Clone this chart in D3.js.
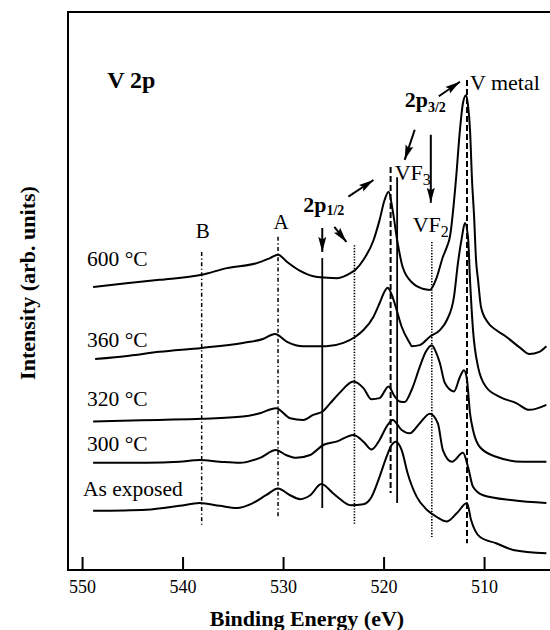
<!DOCTYPE html>
<html><head><meta charset="utf-8">
<script src="https://cdn.jsdelivr.net/npm/d3@7"></script>
<style>
body{margin:0;background:#fff;}
svg{display:block;}
text{font-family:"Liberation Serif","Times New Roman",serif;fill:#000;}
</style>
</head><body>
<svg id="chart" width="550" height="630"></svg>
<script>
// ---------- DATA (binding energy eV, intensity arb. units) ----------
const seriesNames = ["600 °C", "360 °C", "320 °C", "300 °C", "As exposed"];

const s600 = [
 [548.9,50.7],[545.6,51.4],[542.3,52.0],[538.1,52.9],[535.6,54.1],[532.6,55.0],[531.3,55.9],[530.5,56.5],
 [529.6,55.2],[528.3,53.6],[526.6,52.5],[524.6,52.3],[523.3,53.2],[522.8,53.8],[522.0,55.6],[521.0,59.1],
 [520.4,62.7],[519.9,66.3],[519.5,67.8],[519.1,64.5],[518.6,58.6],[518.1,54.3],[517.1,51.4],[516.1,50.4],
 [515.4,50.2],[514.7,52.5],[514.1,56.1],[513.7,57.9],[513.4,59.7],[512.8,69.9],[512.4,78.9],[512.1,83.7],
 [511.8,85.1],[511.6,83.3],[511.4,78.9],[511.2,69.9],[511.0,63.6],[510.8,55.6],[510.6,52.0],[510.3,47.1],
 [509.6,44.3],[508.8,43.0],[507.8,41.8],[506.4,39.8],[505.5,38.7],[504.5,39.1],[503.8,40.1]
];
const s360 = [
 [548.7,37.8],[545.3,38.4],[542.3,39.1],[538.1,39.8],[534.0,40.7],[532.0,41.4],[530.8,42.3],[529.6,40.9],
 [528.0,40.1],[525.7,40.1],[524.0,40.7],[522.8,41.8],[522.0,43.0],[521.0,45.4],[520.4,47.8],[519.9,49.9],
 [519.6,50.6],[519.1,48.9],[518.7,46.6],[518.2,43.6],[517.4,40.7],[517.2,40.1],[516.4,40.3],[515.4,41.8],
 [514.4,43.0],[513.7,44.8],[513.0,48.9],[512.6,55.0],[512.2,59.7],[511.9,62.2],[511.6,59.7],[511.4,52.0],
 [511.1,43.0],[510.6,36.4],[509.8,32.8],[508.4,31.0],[506.8,29.9],[505.5,28.7],[503.8,29.6]
];
const s320 = [
 [548.9,26.6],[542.3,26.9],[538.1,27.1],[534.0,27.5],[532.3,28.1],[530.7,29.0],[529.3,27.2],[528.0,26.9],
 [527.0,27.8],[526.0,28.5],[525.3,29.9],[524.4,31.7],[523.0,33.8],[522.0,32.6],[521.2,30.6],[520.4,30.8],
 [519.5,32.9],[518.9,31.1],[518.4,30.2],[517.9,30.1],[517.2,32.3],[516.4,36.4],[515.8,39.1],[515.2,40.3],
 [514.8,39.1],[514.4,37.1],[513.9,33.5],[513.0,32.0],[512.4,34.6],[512.0,35.8],[511.7,34.1],[511.4,28.1],
 [511.1,25.1],[510.4,22.0],[508.8,20.3],[506.1,19.4],[503.8,19.4]
];
const s300 = [
 [548.9,19.2],[543.6,19.2],[540.3,19.4],[538.3,19.7],[536.3,19.4],[534.3,19.2],[532.3,20.1],[530.7,21.5],
 [529.7,20.6],[528.7,20.1],[527.3,20.6],[526.0,22.4],[524.7,23.0],[523.0,24.2],[522.0,23.0],[521.2,21.6],
 [520.4,23.3],[519.7,25.7],[519.1,26.9],[518.2,25.1],[517.4,24.5],[516.4,26.3],[515.4,28.0],[514.6,26.3],
 [514.1,21.5],[513.2,19.4],[512.1,21.0],[511.6,18.5],[511.1,14.9],[510.1,13.4],[507.1,12.5],[503.8,12.0]
];
const sExposed = [
 [548.9,10.6],[543.6,10.8],[540.3,11.5],[538.3,12.0],[536.3,11.5],[534.6,11.1],[533.0,12.0],[531.7,13.4],
 [530.5,14.6],[529.3,13.4],[528.3,12.7],[527.3,13.4],[526.2,15.4],[525.0,13.7],[524.4,12.8],[523.3,11.6],
 [522.0,11.8],[521.2,13.1],[520.4,16.7],[519.7,20.3],[519.2,22.4],[518.8,23.0],[518.2,21.5],[517.6,17.3],
 [516.7,13.1],[515.7,10.8],[514.7,9.5],[513.7,8.7],[512.7,10.2],[511.7,12.0],[511.3,9.0],[510.4,5.9],
 [508.8,4.8],[507.1,3.6],[503.8,3.0]
];
const allSeries = [s600, s360, s320, s300, sExposed];

const xTicks = [550, 540, 530, 520, 510];

// reference (peak position) lines
const refEnergies = [538.1, 530.5, 526.1, 522.9, 519.3, 518.65, 515.2, 511.7];
const refTops     = [57.0, 59.7, 55.9, 58.2, 72.2, 70.4, 58.8, 87.8];
const refBottoms  = [7.7, 9.3, 11.1, 8.1, 13.8, 12.0, 5.9, 4.8];

// ---------- LAYOUT ----------
const SERIF = '"Liberation Serif","Times New Roman",serif';
const svg = d3.select("#chart");
const x = d3.scaleLinear().domain([551.4, 503.5]).range([68, 549.4]);
const y = d3.scaleLinear().domain([0, 100]).range([570, 12]);

const refStyles = [
  {dash:"4,2.5,1.2,2.5", w:1.5}, {dash:"4,2.5,1.2,2.5", w:1.5},
  {dash:null, w:1.8}, {dash:"1.3,1.5", w:1.6},
  {dash:"6,3", w:2}, {dash:null, w:1.8},
  {dash:"1.3,1.5", w:1.6}, {dash:"6,3", w:2}
];

// defs: arrow head
svg.append("defs").append("marker")
  .attr("id","ah").attr("markerUnits","userSpaceOnUse")
  .attr("markerWidth",16).attr("markerHeight",10)
  .attr("refX",15).attr("refY",4.5).attr("orient","auto")
  .append("path").attr("d","M0,0.5 L15,4.5 L0,8.5 L2.5,4.5 Z").attr("fill","#000");

// frame
const fr = svg.append("g").attr("stroke","#000").attr("stroke-width",2).attr("fill","none");
fr.append("line").attr("x1",68).attr("x2",68).attr("y1",12).attr("y2",571);
fr.append("line").attr("x1",67).attr("x2",550).attr("y1",12).attr("y2",12);
fr.append("line").attr("x1",67).attr("x2",550).attr("y1",570).attr("y2",570);

// axis
const ax = svg.append("g").attr("transform","translate(0,570)")
  .call(d3.axisBottom(x).tickValues(xTicks).tickSize(-13).tickPadding(10).tickFormat(d3.format("d")));
ax.select(".domain").remove();
ax.selectAll(".tick line").attr("stroke","#000").attr("stroke-width",2);
ax.selectAll(".tick text").style("font-family",SERIF).style("font-size","18px").attr("fill","#000");

// reference lines
svg.append("g").selectAll("line").data(refEnergies).join("line")
  .attr("x1",d=>x(d)).attr("x2",d=>x(d))
  .attr("y1",(d,i)=>y(refTops[i])).attr("y2",(d,i)=>y(refBottoms[i]))
  .attr("stroke","#000")
  .attr("stroke-width",(d,i)=>refStyles[i].w)
  .attr("stroke-dasharray",(d,i)=>refStyles[i].dash);

// spectra
const line = d3.line().x(d=>x(d[0])).y(d=>y(d[1])).curve(d3.curveMonotoneX);
svg.append("g").selectAll("path").data(allSeries).join("path")
  .attr("d", line).attr("fill","none").attr("stroke","#000")
  .attr("stroke-width",2).attr("stroke-linejoin","round");

// series labels
const labelAt = [[549.5,54.4],[549.5,40.0],[549.5,29.4],[549.5,21.4],[549.9,13.3]];
svg.append("g").selectAll("text").data(seriesNames).join("text")
  .attr("x",(d,i)=>x(labelAt[i][0])).attr("y",(d,i)=>y(labelAt[i][1]))
  .style("font-family",SERIF).style("font-size","21.5px").text(d=>d);

// text annotations
function label(e, v, txt, opts={}) {
  const t = svg.append("text").attr("x",x(e)).attr("y",y(v))
    .style("font-family",SERIF)
    .style("font-size",(opts.size||22)+"px")
    .style("font-weight",opts.bold?"bold":"normal")
    .attr("text-anchor",opts.anchor||"start");
  t.append("tspan").text(txt);
  if (opts.sub) t.append("tspan").style("font-size",(opts.subSize||14)+"px").attr("dy",opts.subDy||5).text(opts.sub);
  return t;
}
label(547.5, 86.4, "V 2p", {bold:true, size:24});
label(511.4, 86.0, "V metal");
label(517.9, 83.0, "2p", {bold:true, sub:"3/2"});
label(518.9, 69.9, "VF", {sub:"3", subSize:16, subDy:5});
label(517.1, 60.6, "VF", {sub:"2", subSize:16, subDy:5});
label(528.0, 64.2, "2p", {bold:true, sub:"1/2", subDy:3});
label(538.0, 59.5, "B", {anchor:"middle", size:21});
label(530.2, 61.2, "A", {anchor:"middle", size:21});

// arrows
const arrows = [
  [[514.5,84.9],[512.4,87.5]],
  [[516.9,78.9],[517.9,73.5]],
  [[515.3,78.0],[515.3,65.8]],
  [[523.5,66.9],[521.0,69.9]],
  [[526.1,61.3],[526.1,57.0]],
  [[524.9,61.5],[523.7,58.8]]
];
svg.append("g").selectAll("line").data(arrows).join("line")
  .attr("x1",d=>x(d[0][0])).attr("y1",d=>y(d[0][1]))
  .attr("x2",d=>x(d[1][0])).attr("y2",d=>y(d[1][1]))
  .attr("stroke","#000").attr("stroke-width",2).attr("marker-end","url(#ah)");

// axis titles
svg.append("text").attr("x",307).attr("y",626).attr("text-anchor","middle")
  .style("font-family",SERIF).style("font-size","22px").style("font-weight","bold").text("Binding Energy (eV)");
svg.append("text").attr("transform","translate(35,283) rotate(-90)").attr("text-anchor","middle")
  .style("font-family",SERIF).style("font-size","22px").style("font-weight","bold").text("Intensity (arb. units)");
</script>
</body></html>
